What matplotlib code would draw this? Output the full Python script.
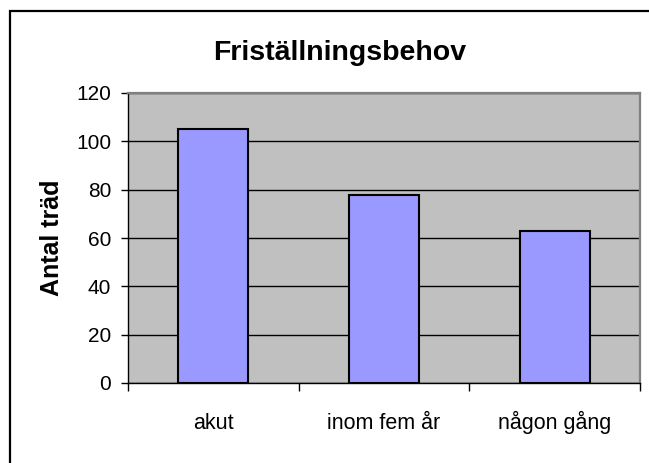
import numpy as np
import matplotlib
matplotlib.use('Agg')
import matplotlib.pyplot as plt
from matplotlib.patches import Rectangle

# data
categories = ['akut', 'inom fem år', 'någon gång']
values = [105, 78, 63]
yticks = [0, 20, 40, 60, 80, 100, 120]

plt.rcParams['font.family'] = ['Liberation Sans', 'DejaVu Sans']

W, H = 649, 463
fig = plt.figure(figsize=(W / 100, H / 100), dpi=100)
fig.patch.set_facecolor('white')

# outer chart frame (cut off at right/bottom like the original)
fig.patches.append(Rectangle((10 / W, -0.2), 1.2, 1.2 - 10.5 / H,
                             transform=fig.transFigure, fill=False,
                             edgecolor='black', linewidth=1.6))

ax = fig.add_axes([128 / W, 1 - 383 / H, (640 - 128) / W, (383 - 93) / H])
ax.set_facecolor('#C0C0C0')

x = np.arange(len(categories))
ax.bar(x, values, width=0.41, color='#9999FF', edgecolor='black',
       linewidth=1.5, zorder=3)

ax.set_xlim(-0.5, len(categories) - 0.5)
ax.set_ylim(0, 120)
ax.set_yticks(yticks)
ax.set_yticklabels([str(t) for t in yticks])
ax.yaxis.grid(True, color='black', linewidth=1.0, zorder=1)
ax.set_axisbelow(True)

# category labels centered, ticks at category boundaries
ax.set_xticks(x)
ax.set_xticklabels(categories, va='baseline')
ax.set_xticks(np.arange(len(categories) + 1) - 0.5, minor=True)
ax.tick_params(axis='x', which='major', length=0, pad=33, labelsize=15.5)
ax.tick_params(axis='x', which='minor', length=6, width=1, color='black',
               direction='out')
ax.tick_params(axis='y', length=5, width=1, direction='out', pad=7,
               labelsize=15)

for s in ['top', 'right']:
    ax.spines[s].set_color('#808080')
    ax.spines[s].set_linewidth(1.6)
for s in ['left', 'bottom']:
    ax.spines[s].set_color('black')
    ax.spines[s].set_linewidth(1.0)

ax.set_ylabel('Antal träd', fontsize=18, fontweight='bold')
ax.yaxis.label.set_va('center')
ax.yaxis.set_label_coords((52 - 128) / 512, 0.5)

fig.text(213 / W, 1 - 60 / H, 'Friställningsbehov',
         ha='left', va='baseline', fontsize=20.5, fontweight='bold')

fig.savefig('out.png', dpi=100)
